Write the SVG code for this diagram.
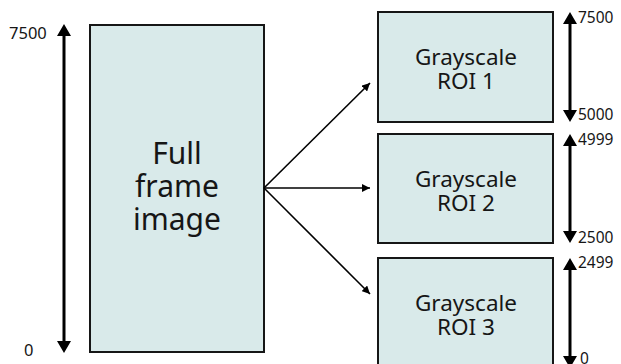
<svg xmlns="http://www.w3.org/2000/svg" width="621" height="364" viewBox="0 0 621 364">
<defs>
<marker id="ah" viewBox="0 0 10 10" refX="10" refY="5" markerWidth="8" markerHeight="8" markerUnits="userSpaceOnUse" orient="auto"><path d="M0,0 L10,5 L0,10 z" fill="#000"/></marker>
</defs>
<style>
.box{fill:#d9eaea;stroke:#161616;stroke-width:2}
.t{font-family:"Noto Sans","Open Sans",sans-serif;fill:#161616;text-anchor:middle}
.lbl{font-family:"Noto Sans","Open Sans",sans-serif;fill:#161616;font-size:15.5px}
.lbl2{font-family:"Noto Sans","Open Sans",sans-serif;fill:#161616;font-size:16.5px}
.con{stroke:#000;stroke-width:1.6;fill:none}
.dim{stroke:#000;stroke-width:3;fill:none}
</style>
<g id="full">
<rect class="box" x="90" y="25" width="174" height="327"/>
<text class="t" font-size="30" x="177" y="164">Full</text>
<text class="t" font-size="30" x="177" y="197">frame</text>
<text class="t" font-size="30" x="177" y="230">image</text>
</g>
<g id="roi1">
<rect class="box" x="378" y="12" width="175" height="110"/>
<text class="t" font-size="22.5" x="466" y="65">Grayscale</text>
<text class="t" font-size="22.5" x="466" y="89">ROI 1</text>
</g>
<g id="roi2">
<rect class="box" x="378" y="134" width="175" height="109"/>
<text class="t" font-size="22.5" x="466" y="187">Grayscale</text>
<text class="t" font-size="22.5" x="466" y="211">ROI 2</text>
</g>
<g id="roi3">
<rect class="box" x="378" y="258" width="175" height="110"/>
<text class="t" font-size="22.5" x="466" y="311">Grayscale</text>
<text class="t" font-size="22.5" x="466" y="335">ROI 3</text>
</g>
<g id="connectors">
<line class="con" x1="264" y1="188" x2="370" y2="83" marker-end="url(#ah)"/>
<line class="con" x1="264" y1="188" x2="370" y2="188" marker-end="url(#ah)"/>
<line class="con" x1="264" y1="188" x2="370" y2="294" marker-end="url(#ah)"/>
<line class="dim" x1="64" y1="30" x2="64" y2="347"/>
<path d="M57,36 L64,24 L71,36 z M57,341 L64,353 L71,341 z" fill="#000"/>
<line class="dim" x1="570" y1="18" x2="570" y2="116"/>
<path d="M563,24 L570,12 L577,24 z M563,110 L570,122 L577,110 z" fill="#000"/>
<line class="dim" x1="570" y1="140" x2="570" y2="237"/>
<path d="M563,146 L570,134 L577,146 z M563,231 L570,243 L577,231 z" fill="#000"/>
<line class="dim" x1="570" y1="264" x2="570" y2="362"/>
<path d="M563,270 L570,258 L577,270 z M563,356 L570,368 L577,356 z" fill="#000"/>
</g>
<g id="labels">
<text class="lbl2" x="9" y="39">7500</text>
<text class="lbl2" x="24" y="356">0</text>
<text class="lbl" x="578" y="23">7500</text>
<text class="lbl" x="578" y="120">5000</text>
<text class="lbl" x="578" y="145">4999</text>
<text class="lbl" x="578" y="243">2500</text>
<text class="lbl" x="578" y="268">2499</text>
<text class="lbl" x="580" y="364">0</text>
</g>
</svg>
